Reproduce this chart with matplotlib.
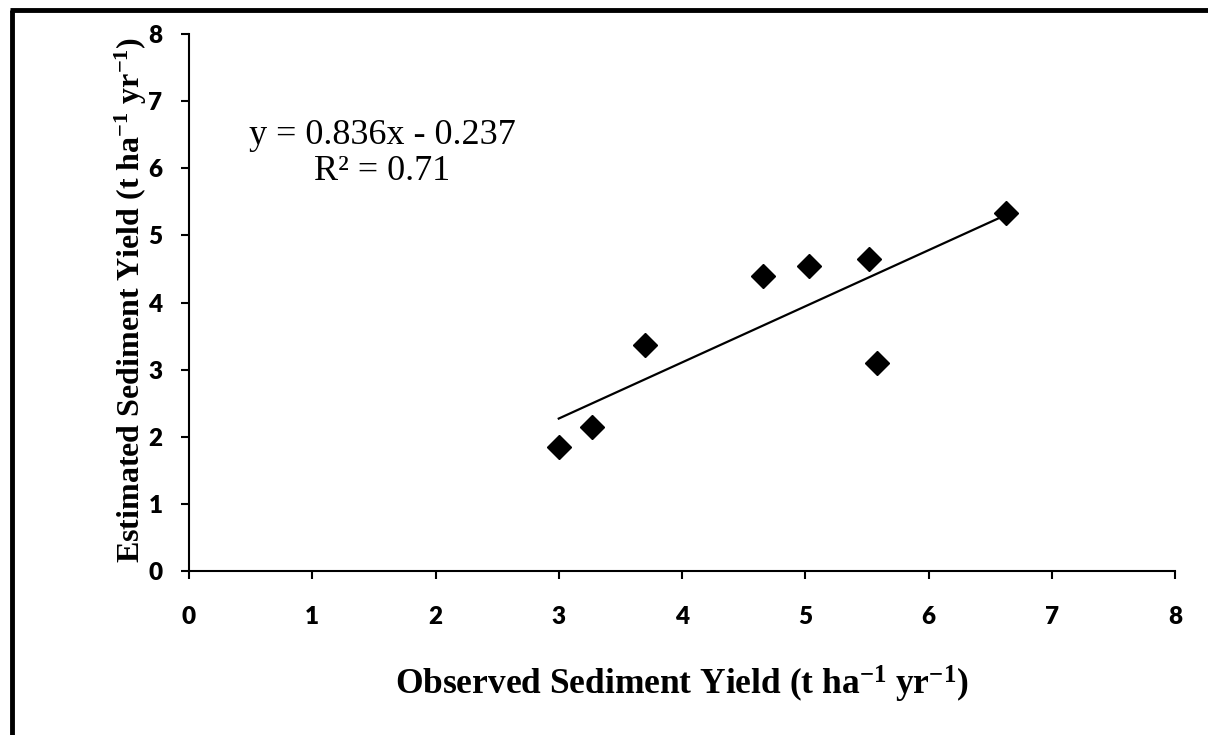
import matplotlib
matplotlib.use("Agg")
import matplotlib.pyplot as plt
from matplotlib.lines import Line2D
import numpy as np

# Data
observed = [3.00, 3.27, 3.70, 4.66, 5.03, 5.52, 5.58, 6.63]
estimated = [1.85, 2.15, 3.37, 4.40, 4.55, 4.65, 3.10, 5.33]
slope = 0.836
intercept = -0.237
r2 = 0.71
ticks = [0, 1, 2, 3, 4, 5, 6, 7, 8]

plt.rcParams['mathtext.fontset'] = 'custom'
plt.rcParams['mathtext.rm'] = 'Liberation Serif'
plt.rcParams['mathtext.bf'] = 'Liberation Serif:bold'
plt.rcParams['mathtext.it'] = 'Liberation Serif:italic'

W, H = 1208, 735
fig = plt.figure(figsize=(W / 100, H / 100), dpi=100)
ax = fig.add_axes([189 / W, 1 - 571 / H, (1175 - 189) / W, (571 - 34) / H])

ax.plot(observed, estimated, linestyle='none', marker='D', markersize=12.5,
        color='black', zorder=3)
xs = np.array([min(observed), max(observed)])
ax.plot(xs, slope * xs + intercept, color='black', linewidth=1.6, zorder=2)

ax.set_xlim(0, 8)
ax.set_ylim(0, 8)
ax.set_xticks(ticks)
ax.set_yticks(ticks)
ax.set_xticklabels([str(t) for t in ticks], fontfamily='Lato', fontweight='heavy', fontsize=17.5)
ax.set_yticklabels([str(t) for t in ticks], fontfamily='Lato', fontweight='heavy', fontsize=17.5)
ax.tick_params(axis='x', direction='out', length=6, width=1.5, pad=19)
ax.tick_params(axis='y', direction='out', length=6, width=1.5, pad=13)
for s in ['top', 'right']:
    ax.spines[s].set_visible(False)
for s in ['left', 'bottom']:
    ax.spines[s].set_linewidth(1.5)

eq_text = f"y = {slope}x - {abs(intercept)}\nR\u00b2 = {r2}"
ax.text((382 - 189) / (1175 - 189), (571 - 180) / (571 - 34), eq_text,
        transform=ax.transAxes, ha='center', va='baseline', fontsize=26,
        fontfamily='Liberation Serif', linespacing=1.1, multialignment='center')

fig.text(682 / W, 1 - 684 / H,
         r"Observed Sediment Yield (t ha$^{\mathbf{-1}}$ yr$^{\mathbf{-1}}$)",
         ha='center', va='center', fontsize=25.5, fontfamily='Liberation Serif',
         fontweight='bold')
fig.text(131 / W, 1 - 300 / H,
         r"Estimated Sediment Yield (t ha$^{\mathbf{-1}}$ yr$^{\mathbf{-1}}$)",
         ha='center', va='center', rotation=90, fontsize=23,
         fontfamily='Liberation Serif', fontweight='bold')

# Frame (left and top)
fig.add_artist(Line2D([12 / W, 12 / W], [0, 1 - 10 / H], transform=fig.transFigure,
                      color='black', linewidth=3.5, solid_capstyle='butt'))
fig.add_artist(Line2D([10 / W, 1], [1 - 10 / H, 1 - 10 / H], transform=fig.transFigure,
                      color='black', linewidth=3.5, solid_capstyle='butt'))

fig.savefig("out.png", dpi=100)
